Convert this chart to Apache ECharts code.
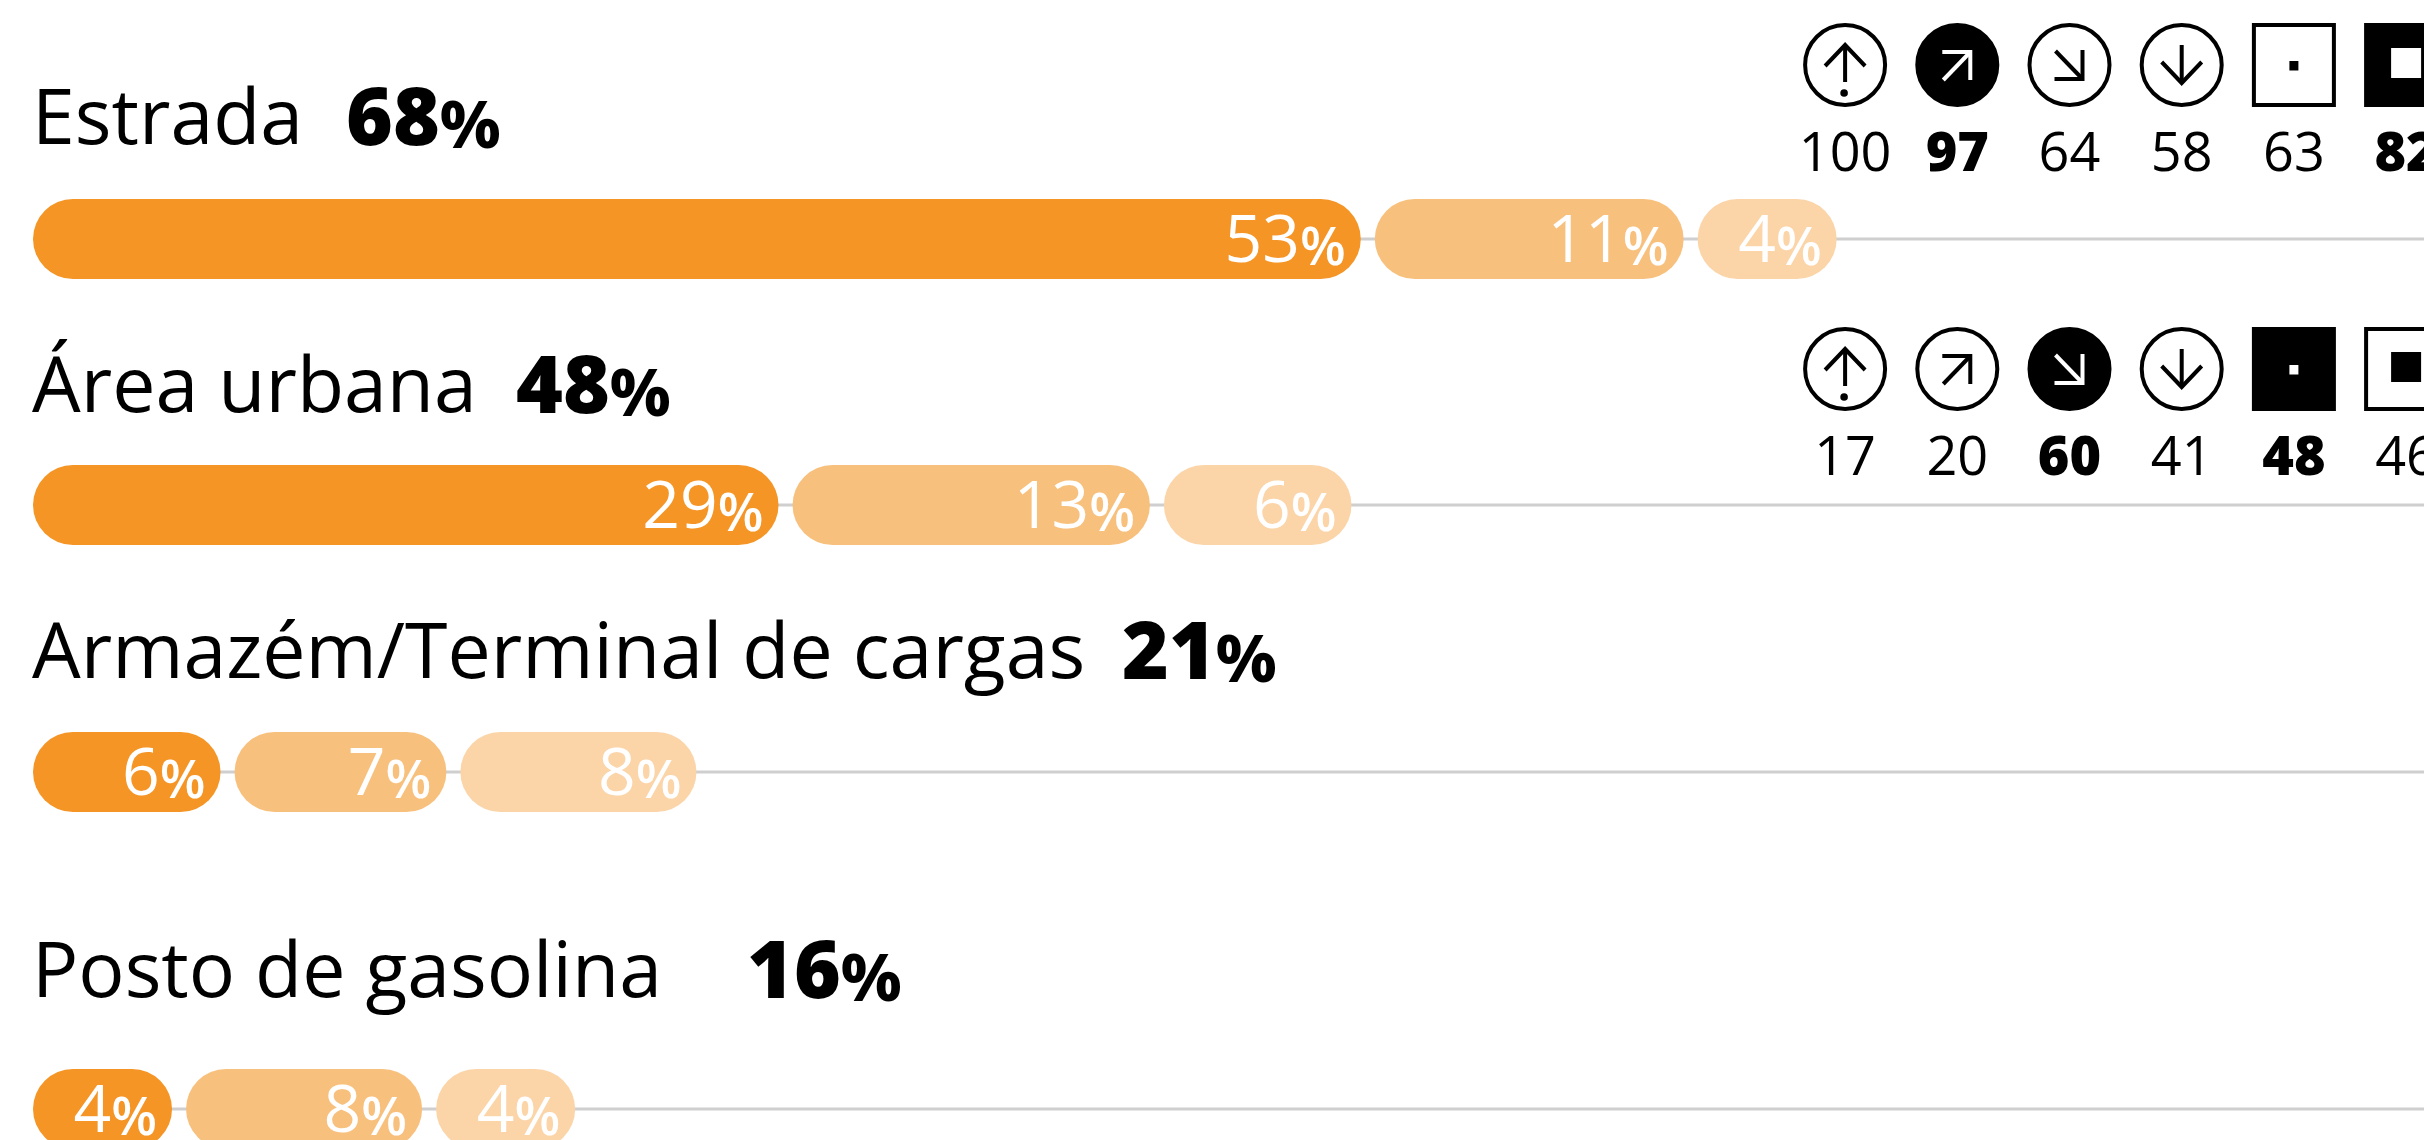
<!DOCTYPE html>
<html><head><meta charset="utf-8">
<style>html,body{margin:0;padding:0;background:#fff;overflow:hidden}#c{width:2424px;height:1140px}</style>
<script src="https://cdn.jsdelivr.net/npm/echarts@6/dist/echarts.min.js"></script>
</head><body><div id="c"></div>
<script>
// ---- data ----
const categories = ['Estrada', 'Área urbana', 'Armazém/Terminal de cargas', 'Posto de gasolina'];
const totals = [68, 48, 21, 16];
const level1 = [53, 29, 6, 4];
const level2 = [11, 13, 7, 8];
const level3 = [4, 6, 8, 4];
const iconKinds = ['up', 'upRight', 'downRight', 'down', 'squareSmall', 'squareLarge'];
const iconValuesEstrada = [100, 97, 64, 58, 63, 82];
const iconValuesArea = [17, 20, 60, 41, 48, 46];
const highlightEstrada = ['upRight', 'squareLarge'];
const highlightArea = ['downRight', 'squareSmall'];

// ---- layout & style ----
const FONT = 'Open Sans';
const HEAVY = 'Noto Sans';
const barColors = ['#F49526', '#F8C07D', '#FBD4A8'];
const barCentres = [239, 505, 772, 1109];
const nameBaselines = [146, 414, 680, 999];
const totalLefts = [346, 516, 1122, 747];
const BAR_H = 80, LEFT = 33, PAD = 42, GAP = 14;
const iconCentres = [65, 369];
const ICON_D = 84, ICON_LEFT = 1789, ICON_STEP = 112.2, LABEL_DY = 91;
const STROKE = 4;

const grids = [], xAxes = [], yAxes = [], series = [];
function addGrid(left, top, width, height, xAxis, yData) {
  const i = grids.length;
  grids.push({left, top, width, height, containLabel:false, outerBoundsMode:'none'});
  xAxes.push(Object.assign({gridIndex:i, show:false}, xAxis));
  yAxes.push({gridIndex:i, type:'category', data:yData, show:false});
  return i;
}

categories.forEach((cat, r) => {
  const g = addGrid(LEFT, barCentres[r]-BAR_H/2, 2426, BAR_H, {type:'value', min:0, max:100}, [cat]);
  series.push({type:'line', xAxisIndex:g, yAxisIndex:g, silent:true, showSymbol:false, z:1,
    lineStyle:{color:'#CFCFCF', width:3}, data:[[0,cat],[100,cat]]});
  const vals = [level1[r], level2[r], level3[r]];
  let cum = 0;
  const rows = vals.map((v,l)=>{const o=[cum,v,l]; cum+=v; return o;});
  series.push({type:'custom', xAxisIndex:g, yAxisIndex:g, z:2, silent:true, clip:false,
    encode:{x:[0,1]}, data:rows,
    renderItem(p, api){
      const start=api.value(0), v=api.value(1), l=api.value(2);
      const pt=api.coord([start,0]);
      const x=pt[0]+l*(PAD+GAP), w=api.size([v,0])[0]+PAD;
      return {type:'group',children:[
        {type:'rect',shape:{x,y:pt[1]-BAR_H/2,width:w,height:BAR_H,r:BAR_H/2},style:{fill:barColors[l]}},
        {type:'text',style:{x:x+w-15,y:pt[1]+2,align:'right',verticalAlign:'middle',
          text:'{v|'+v+'}{p|%}',fill:'#fff',
          rich:{v:{fontFamily:FONT,fontSize:66,fontWeight:400,fill:'#fff',verticalAlign:'bottom',lineHeight:70},
                p:{fontFamily:FONT,fontSize:53,fontWeight:600,fill:'#fff',verticalAlign:'bottom',lineHeight:70}}}}
      ]};
    }});
});

function iconSeries(values, highlight, cy){
  const g = addGrid(ICON_LEFT, cy-ICON_D/2, ICON_STEP*iconKinds.length, ICON_D, {type:'category', data:iconKinds}, ['icons']);
  series.push({type:'custom', xAxisIndex:g, yAxisIndex:g, z:3, silent:true, clip:false,
    data: iconKinds.map((k,i)=>[i,values[i]]),
    renderItem(p, api){
      const i=api.value(0), v=api.value(1), kind=iconKinds[i], pt=api.coord([i,0]);
      const cx=pt[0], y=pt[1], on=highlight.includes(kind);
      const fg=on?'#fff':'#000', bg=on?'#000':'#fff';
      const st={stroke:fg,lineWidth:STROKE,fill:'none',lineCap:'butt',lineJoin:'miter'};
      const poly=(pts)=>({type:'polyline',shape:{points:pts.map(a=>[cx+a[0],y+a[1]])},style:st});
      const ch=[];
      const isSq=kind.startsWith('square');
      if(isSq) ch.push({type:'rect',shape:{x:cx-40,y:y-40,width:80,height:80},style:{fill:bg,stroke:'#000',lineWidth:STROKE}});
      else ch.push({type:'circle',shape:{cx,cy:y,r:40},style:{fill:bg,stroke:'#000',lineWidth:STROKE}});
      if(kind==='up'){
        ch.push(poly([[0,-20],[0,17]]),poly([[-20,1],[0,-20],[20,1]]));
        ch.push({type:'circle',shape:{cx:cx-1,cy:y+28,r:3.8},style:{fill:fg}});
      } else if(kind==='down'){
        ch.push(poly([[0,-20],[0,17]]),poly([[-20,-3],[0,18],[20,-3]]));
      } else if(kind==='upRight'){
        ch.push(poly([[-14,15],[13,-13]]),poly([[-15,-13],[13,-13],[13,15]]));
      } else if(kind==='downRight'){
        ch.push(poly([[-14,-14],[13,14]]),poly([[13,-15],[13,14],[-15,14]]));
      } else if(kind==='squareSmall'){
        ch.push({type:'rect',shape:{x:cx-4.5,y:y-4,width:9,height:9.5},style:{fill:fg}});
      } else {
        ch.push({type:'rect',shape:{x:cx-15,y:y-17,width:30,height:30},style:{fill:fg}});
      }
      ch.push({type:'text',style:{x:cx,y:y+LABEL_DY,align:'center',verticalAlign:'middle',text:String(v),
        fontFamily:on?HEAVY:FONT,fontSize:54,fontWeight:on?900:400,fill:'#000'}});
      return {type:'group',children:ch};
    }});
}
iconSeries(iconValuesEstrada, highlightEstrada, iconCentres[0]);
iconSeries(iconValuesArea, highlightArea, iconCentres[1]);

const headers = [];
categories.forEach((cat,r)=>{
  headers.push({type:'text',style:{x:LEFT-1,y:nameBaselines[r]-24,text:cat,verticalAlign:'middle',
    fontFamily:FONT,fontSize:77,fontWeight:400,fill:'#000'}});
  headers.push({type:'text',style:{x:totalLefts[r],y:nameBaselines[r]-24,verticalAlign:'middle',
    text:'{v|'+totals[r]+'}{p|%}',
    rich:{v:{fontFamily:HEAVY,fontSize:80,fontWeight:900,fill:'#000',verticalAlign:'bottom'},
          p:{fontFamily:HEAVY,fontSize:66,fontWeight:800,fill:'#000',verticalAlign:'bottom'}}}});
});

const chart = echarts.init(document.getElementById('c'), null, {renderer:'canvas', width:2424, height:1140});
chart.setOption({animation:false, backgroundColor:'#fff', grid:grids, xAxis:xAxes, yAxis:yAxes, series, tooltip:{show:false},
  graphic:{elements:headers}});
</script></body></html>
